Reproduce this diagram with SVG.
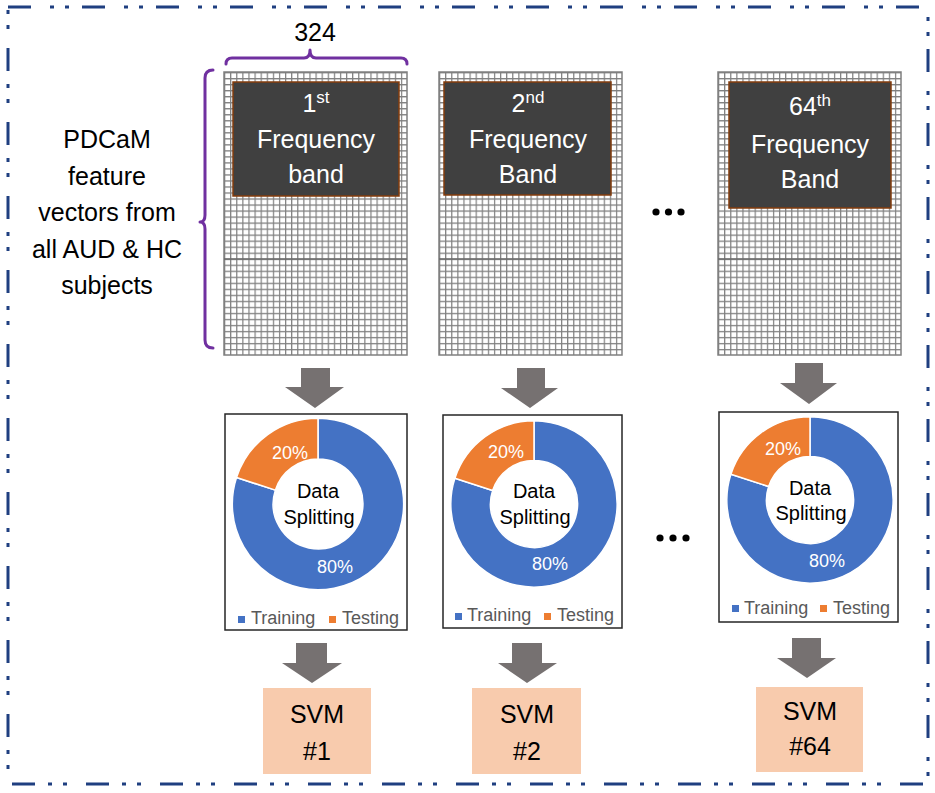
<svg xmlns="http://www.w3.org/2000/svg" width="935" height="793" viewBox="0 0 935 793">
<style>
.t{font-family:"Liberation Sans",Arial,sans-serif;text-anchor:middle}
.big{font-size:25px;fill:#000}
.wt{font-size:25px;fill:#fff}
.sup{font-size:17px}
.pct{font-size:18px;fill:#fff}
.ds{font-size:20px;fill:#000}
.lg{font-size:18px;fill:#595959;text-anchor:start}
.dark{fill:#404040;stroke:#843C0C;stroke-width:1.5}
.chartbox{fill:#fff;stroke:#262626;stroke-width:1.5}
.arrow{fill:#767171}
.svm{fill:#F8CBAD}
.brace{fill:none;stroke:#7030A0;stroke-width:3;stroke-linejoin:round;stroke-linecap:round}
.blue{fill:#4472C4;stroke:#fff;stroke-width:1.5}
.orange{fill:#ED7D31;stroke:#fff;stroke-width:1.5}
</style>
<defs>
<pattern id="cells" patternUnits="userSpaceOnUse" width="6.1" height="6.02">
<rect width="6.1" height="6.02" fill="#fff"/>
<path d="M0,0.6 H6.1 M0.6,0 V6.02" stroke="#7f7f7f" stroke-width="1.2" fill="none"/>
</pattern>
<g id="donut">
<path class="blue" d="M0,-84 A84,84 0 1 1 -79.9,-26 L-41.8,-13.6 A44,44 0 1 0 0,-44 Z"/>
<path class="orange" d="M0,-84 A84,84 0 0 0 -79.9,-26 L-41.8,-13.6 A44,44 0 0 1 0,-44 Z"/>
</g>
</defs>
<rect width="935" height="793" fill="#fff"/>
<rect id="frame" x="8" y="7" width="920" height="777" fill="none" stroke="#1F3F80" stroke-width="3" stroke-dasharray="23 19 4 11 4 13"/>

<g id="label-324">
<path class="brace" d="M226,64 Q226,58 232,58 H304 Q310,58 310,50 Q310,58 316,58 H401 Q407,58 407,64"/>
<text class="t big" x="315" y="41" font-size="22">324</text>
</g>

<g id="label-subjects">
<path class="brace" d="M213,70 Q205,70 205,78 V215 Q205,222 200,222 Q205,222 205,229 V340 Q205,348 213,348"/>
<text class="t big" x="107" y="148">PDCaM</text>
<text class="t big" x="107" y="184.5">feature</text>
<text class="t big" x="107" y="221">vectors from</text>
<text class="t big" x="107" y="257.5">all AUD &amp; HC</text>
<text class="t big" x="107" y="294">subjects</text>
</g>

<g id="band1">
<g transform="translate(224,72)">
<rect width="183" height="283" fill="url(#cells)" stroke="#7f7f7f" stroke-width="1.5"/>
<line x1="0" y1="187" x2="183" y2="187" stroke="#6a6a6a" stroke-width="1.4"/>
</g>
<rect class="dark" x="233" y="82" width="166" height="114"/>
<text class="t wt" x="316" y="112">1<tspan class="sup" dy="-9">st</tspan></text>
<text class="t wt" x="316" y="148">Frequency</text>
<text class="t wt" x="316" y="183">band</text>
</g>

<g id="band2">
<g transform="translate(439,72)">
<rect width="183" height="283" fill="url(#cells)" stroke="#7f7f7f" stroke-width="1.5"/>
<line x1="0" y1="187" x2="183" y2="187" stroke="#6a6a6a" stroke-width="1.4"/>
</g>
<rect class="dark" x="444" y="82" width="167" height="113"/>
<text class="t wt" x="528" y="112">2<tspan class="sup" dy="-9">nd</tspan></text>
<text class="t wt" x="528" y="148">Frequency</text>
<text class="t wt" x="528" y="183">Band</text>
</g>

<g id="band64">
<g transform="translate(718,72)">
<rect width="183" height="283" fill="url(#cells)" stroke="#7f7f7f" stroke-width="1.5"/>
<line x1="0" y1="187" x2="183" y2="187" stroke="#6a6a6a" stroke-width="1.4"/>
</g>
<rect class="dark" x="729" y="82" width="162" height="126"/>
<text class="t wt" x="810" y="115">64<tspan class="sup" dy="-9">th</tspan></text>
<text class="t wt" x="810" y="153">Frequency</text>
<text class="t wt" x="810" y="188">Band</text>
</g>

<g id="ellipsis-top">
<circle cx="656" cy="212" r="3.6"/>
<circle cx="668.5" cy="212" r="3.6"/>
<circle cx="681" cy="212" r="3.6"/>
</g>
<g id="ellipsis-bottom">
<circle cx="660" cy="538" r="3.6"/>
<circle cx="673" cy="538" r="3.6"/>
<circle cx="686" cy="538" r="3.6"/>
</g>

<g id="split1">
<rect class="chartbox" x="225" y="414" width="182" height="216"/>
<use href="#donut" transform="translate(318,504) scale(1.02)"/>
<text class="t pct" x="290" y="459">20%</text>
<text class="t pct" x="335" y="573">80%</text>
<text class="t ds" x="318" y="498">Data</text>
<text class="t ds" x="319" y="524">Splitting</text>
<rect x="238" y="616" width="7" height="7" fill="#4472C4"/>
<text class="t lg" x="251" y="624">Training</text>
<rect x="329" y="616" width="7" height="7" fill="#ED7D31"/>
<text class="t lg" x="342" y="624">Testing</text>
</g>

<g id="split2">
<rect class="chartbox" x="443" y="415" width="179" height="213"/>
<use href="#donut" transform="translate(534,504) scale(0.99)"/>
<text class="t pct" x="506" y="458">20%</text>
<text class="t pct" x="550" y="570">80%</text>
<text class="t ds" x="534" y="498">Data</text>
<text class="t ds" x="535" y="524">Splitting</text>
<rect x="455" y="613" width="7" height="7" fill="#4472C4"/>
<text class="t lg" x="467" y="621">Training</text>
<rect x="544" y="613" width="7" height="7" fill="#ED7D31"/>
<text class="t lg" x="557" y="621">Testing</text>
</g>

<g id="split64">
<rect class="chartbox" x="719" y="412" width="179" height="210"/>
<use href="#donut" transform="translate(810,500) scale(0.99)"/>
<text class="t pct" x="783" y="455">20%</text>
<text class="t pct" x="827" y="567">80%</text>
<text class="t ds" x="810" y="495">Data</text>
<text class="t ds" x="811" y="520">Splitting</text>
<rect x="732" y="605" width="7" height="7" fill="#4472C4"/>
<text class="t lg" x="744" y="614">Training</text>
<rect x="820" y="605" width="7" height="7" fill="#ED7D31"/>
<text class="t lg" x="833" y="614">Testing</text>
</g>

<g id="svm1">
<rect class="svm" x="263" y="688" width="108" height="86"/>
<text class="t big" x="317" y="723">SVM</text>
<text class="t big" x="317" y="760">#1</text>
</g>
<g id="svm2">
<rect class="svm" x="472" y="688" width="109" height="86"/>
<text class="t big" x="527" y="723">SVM</text>
<text class="t big" x="527" y="760">#2</text>
</g>
<g id="svm64">
<rect class="svm" x="756" y="687" width="107" height="85"/>
<text class="t big" x="810" y="720">SVM</text>
<text class="t big" x="810" y="755">#64</text>
</g>

<g id="connectors">
<polygon class="arrow" points="301,368 330,368 330,387 344,387 315,408 285,387 301,387"/>
<polygon class="arrow" points="517,368 545,368 545,388 558,388 530,408 501,388 517,388"/>
<polygon class="arrow" points="795,363 823,363 823,383 837,383 809,404 780,383 795,383"/>
<polygon class="arrow" points="296,643 327,643 327,663 342,663 312,683 282,663 296,663"/>
<polygon class="arrow" points="512,643 542,643 542,663 557,663 527,683 498,663 512,663"/>
<polygon class="arrow" points="792,638 821,638 821,658 836,658 807,678 777,658 792,658"/>
</g>
</svg>
